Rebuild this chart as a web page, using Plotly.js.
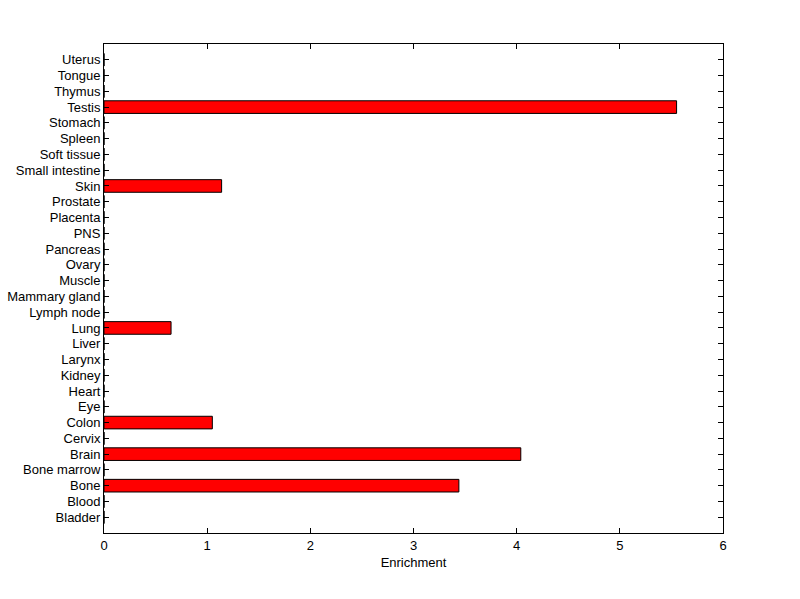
<!DOCTYPE html>
<html>
<head>
<meta charset="utf-8">
<script src="https://cdn.plot.ly/plotly-3.0.1.min.js"></script>
<style>html,body{margin:0;padding:0;background:#fff;}#chart{width:800px;height:599px;}</style>
</head>
<body>
<div id="chart"></div>
<script>
var tissues = ["Bladder","Blood","Bone","Bone marrow","Brain","Cervix","Colon","Eye","Heart","Kidney","Larynx","Liver","Lung","Lymph node","Mammary gland","Muscle","Ovary","Pancreas","PNS","Placenta","Prostate","Skin","Small intestine","Soft tissue","Spleen","Stomach","Testis","Thymus","Tongue","Uterus"];
var enrichment = [0,0,3.44,0,4.04,0,1.05,0,0,0,0,0,0.65,0,0,0,0,0,0,0,0,1.14,0,0,0,0,5.55,0,0,0];
var xTicks = [0,1,2,3,4,5,6];

var positions = tissues.map(function(_, i){ return i + 1; });

var trace = {
  type: 'bar',
  orientation: 'h',
  x: enrichment,
  y: positions,
  width: 0.8,
  marker: {color: '#ff0000', line: {color: '#000000', width: 1}},
  hoverinfo: 'x+text',
  text: tissues,
  textposition: 'none'
};

var font = {family: 'Liberation Sans, Arial, sans-serif', size: 13, color: '#000'};

var layout = {
  width: 800, height: 599,
  margin: {l: 104, r: 77, t: 44, b: 66, pad: 0},
  paper_bgcolor: '#fff', plot_bgcolor: '#fff',
  showlegend: false,
  font: font,
  xaxis: {
    range: [0, 6], tickvals: xTicks, ticktext: xTicks.map(String),
    ticks: 'inside', ticklen: 5, tickwidth: 1, tickcolor: '#000',
    showline: true, linecolor: '#000', linewidth: 1, mirror: 'ticks',
    showgrid: false, zeroline: false,
    tickfont: font,
    title: {text: 'Enrichment', font: font, standoff: 6}
  },
  yaxis: {
    range: [0, 31], tickvals: positions, ticktext: tissues,
    ticks: 'inside', ticklen: 5, tickwidth: 1, tickcolor: '#000',
    showline: true, linecolor: '#000', linewidth: 1, mirror: 'ticks',
    showgrid: false, zeroline: false,
    tickfont: font
  }
};

Plotly.newPlot('chart', [trace], layout, {displayModeBar: false, staticPlot: true});
</script>
</body>
</html>
